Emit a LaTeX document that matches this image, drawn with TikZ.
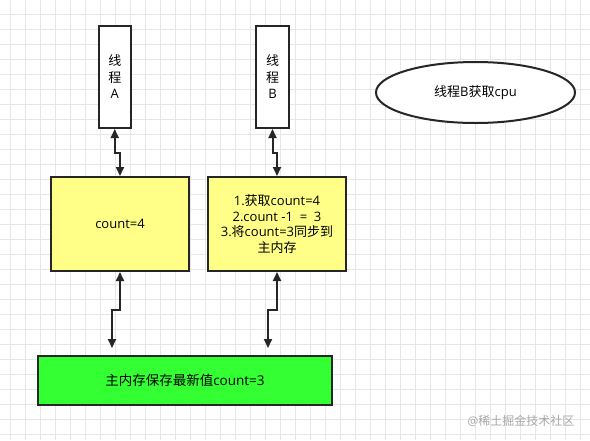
\documentclass[tikz,border=0pt]{standalone}
\usepackage{fontspec}
\setmainfont{Open Sans}
\newfontfamily\cjk{Noto Sans CJK SC}
\usetikzlibrary{arrows.meta,calc,shapes.geometric}
\definecolor{gridc}{HTML}{E6E6E6}
\definecolor{linec}{HTML}{262626}
\definecolor{yelc}{HTML}{FFFF88}
\definecolor{grnc}{HTML}{33FF33}
\definecolor{wmc}{HTML}{A8A8A8}
\tikzset{
  boxbase/.style={draw=linec, line width=2pt, inner sep=0pt, align=center},
  thread/.style={boxbase, fill=white, minimum width=32.5pt, minimum height=102pt, font=\fontsize{13}{16.5}\selectfont},
  work/.style={boxbase, fill=yelc, minimum width=138pt, minimum height=94pt, font=\fontsize{13}{15.5}\selectfont},
  memory/.style={boxbase, fill=grnc, minimum width=294pt, minimum height=49pt, font=\fontsize{13.5}{16}\selectfont},
  cpu/.style={boxbase, ellipse, fill=white, minimum width=199pt, minimum height=61pt, font=\fontsize{13}{15}\selectfont},
  conn/.style={draw=linec, line width=2pt, {Triangle[length=9pt,width=8pt]}-{Triangle[length=9pt,width=8pt]}}
}
\begin{document}
\begin{tikzpicture}[x=1pt,y=-1pt]
\fill[white] (0,0) rectangle (590,440);
\useasboundingbox (0,0) rectangle (590,440);
\foreach \gx in {10,25,...,590} \draw[gridc, line width=1pt] (\gx,0) -- (\gx,440);
\foreach \gy in {14,29,...,440} \draw[gridc, line width=1pt] (0,\gy) -- (590,\gy);

\node[thread] (A) at (114.75,77) {{\cjk 线}\\{\cjk 程}\\A};
\node[thread] (B) at (272.5,77) {{\cjk 线}\\{\cjk 程}\\B};
\node[cpu] (cpu) at (475.5,92.5) {{\cjk 线程}B{\cjk 获取}cpu};
\node[work] (wa) at (120,224) {count=4};
\node[work] (wb) at (277,224) {1.{\cjk 获取}count=4\\2.count -1 \ = \ 3\\3.{\cjk 将}count=3{\cjk 同步到}\\{\cjk 主内存}};
\node[memory] (mem) at (185,380.5) {{\cjk 主内存保存最新值}count=3};
\node[text=wmc, anchor=west, font=\fontsize{12}{14}\selectfont] (wm) at (464,421) {@{\cjk 稀土掘金技术社区}};

\coordinate (ma) at (112,348);
\coordinate (mb) at (268,348);

\draw[conn] (A.south) |- ($(A.south)!0.5!(wa.north)$) -| (wa.north);
\draw[conn] (B.south) |- ($(B.south)!0.5!(wb.north)$) -| (wb.north);
\draw[conn] (wa.south) |- ($(wa.south)!0.5!(ma)$) -| (ma);
\draw[conn] (wb.south) |- ($(wb.south)!0.5!(mb)$) -| (mb);
\end{tikzpicture}
\end{document}
